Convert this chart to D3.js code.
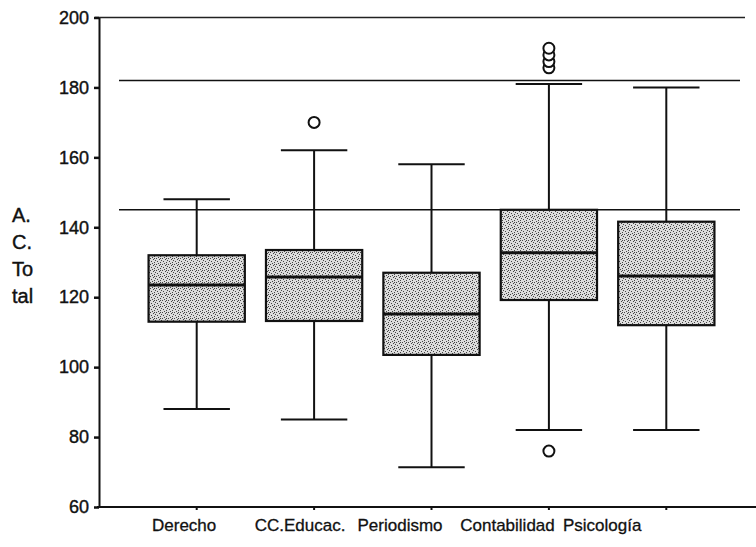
<!DOCTYPE html>
<html>
<head>
<meta charset="utf-8">
<script src="https://cdn.jsdelivr.net/npm/d3@7"></script>
<style>
  html, body { margin: 0; padding: 0; background: #fff; }
  svg { display: block; }
  text { font-family: "Liberation Sans", Arial, sans-serif; fill: #111; }
</style>
</head>
<body>
<svg id="chart" width="756" height="547"></svg>
<script>
// ---- data ----
const categories = ["Derecho", "CC.Educac.", "Periodismo", "Contabilidad", "Psicología"];
const whiskerLow  = [88, 85, 71.4, 82, 82];
const q1          = [113, 113.2, 103.5, 119.2, 112];
const median      = [123.5, 125.8, 115.2, 132.7, 126.1];
const q3          = [132, 133.5, 127, 145, 141.6];
const whiskerHigh = [148, 162, 158, 181, 180];
const outliers    = [[], [170], [], [76, 185.6, 187.4, 189.3, 191.2], []];
const yTicks      = [60, 80, 100, 120, 140, 160, 180, 200];
const refLines    = [182, 145];
const yLabelLines = ["A.", "C.", "To", "tal"];

const svg = d3.select("#chart");

const y = d3.scaleLinear().domain([60, 200]).range([507, 17.5]);
const x = d3.scaleBand().domain(categories).range([138, 725])
  .paddingInner(0.18).paddingOuter(0.09);
// category labels sit on one text line, left-aligned, as in the original output
const xLabel = d3.scalePoint().domain(categories).range([152, 563]);

// stipple pattern
const defs = svg.append("defs");
const pat = defs.append("pattern").attr("id", "stipple")
  .attr("patternUnits", "userSpaceOnUse").attr("width", 6).attr("height", 6);
pat.append("rect").attr("width", 6).attr("height", 6).attr("fill", "#dcdcdc");
[[0,0],[3,1],[1,3],[4,4],[2,5],[5,2],[4,0]].forEach(([px, py]) => {
  pat.append("rect").attr("x", px).attr("y", py).attr("width", 1).attr("height", 1).attr("fill", "#444");
});

// top frame line
svg.append("line").attr("x1", 95).attr("x2", 745)
  .attr("y1", y(200)).attr("y2", y(200))
  .attr("stroke", "#222").attr("stroke-width", 1.5);

// reference lines
svg.selectAll("line.ref").data(refLines).join("line").attr("class", "ref")
  .attr("x1", 119).attr("x2", 740)
  .attr("y1", d => y(d)).attr("y2", d => y(d))
  .attr("stroke", "#111").attr("stroke-width", 1.5);

// y axis
const yAxis = d3.axisLeft(y).tickValues(yTicks).tickSize(5).tickSizeOuter(0);
const gy = svg.append("g").attr("transform", "translate(99,0)").call(yAxis);
gy.select(".domain").attr("stroke", "#111").attr("stroke-width", 2);
gy.selectAll(".tick line").attr("stroke", "#111").attr("stroke-width", 2.5);
gy.selectAll(".tick text").attr("font-size", 18).attr("x", -10)
  .attr("font-family", "Liberation Sans, Arial, sans-serif").attr("fill", "#111")
  .attr("stroke", "#111").attr("stroke-width", 0.4);

// x axis (tick marks at box centres)
const xAxis = d3.axisBottom(x).tickSize(3).tickSizeOuter(0).tickFormat("");
const gx = svg.append("g").attr("transform", "translate(0,507)").call(xAxis);
gx.select(".domain").remove();
gx.selectAll(".tick line").attr("stroke", "#111").attr("stroke-width", 2);
svg.append("line").attr("x1", 97).attr("x2", 756).attr("y1", 507).attr("y2", 507)
  .attr("stroke", "#111").attr("stroke-width", 2);

svg.append("g").attr("class", "xlabels").selectAll("text").data(categories).join("text")
  .attr("x", d => xLabel(d)).attr("y", 531)
  .attr("font-size", 17).attr("stroke", "#111").attr("stroke-width", 0.3).text(d => d);

// y label
svg.append("text").attr("font-size", 20).attr("stroke", "#111").attr("stroke-width", 0.4)
  .selectAll("tspan").data(yLabelLines).join("tspan")
  .attr("x", 12).attr("y", (d, i) => 222 + i * 27).text(d => d);

// boxes
const rows = categories.map((c, i) => ({
  c, lo: whiskerLow[i], q1: q1[i], med: median[i], q3: q3[i], hi: whiskerHigh[i], out: outliers[i]
}));
const g = svg.selectAll("g.box").data(rows).join("g").attr("class", "box");
const cx = d => x(d.c) + x.bandwidth() / 2;
const capW = () => x.bandwidth() * 0.69;

g.append("line").attr("x1", cx).attr("x2", cx)
  .attr("y1", d => y(d.hi)).attr("y2", d => y(d.q3))
  .attr("stroke", "#111").attr("stroke-width", 2);
g.append("line").attr("x1", cx).attr("x2", cx)
  .attr("y1", d => y(d.q1)).attr("y2", d => y(d.lo))
  .attr("stroke", "#111").attr("stroke-width", 2);
g.append("line").attr("x1", d => cx(d) - capW() / 2).attr("x2", d => cx(d) + capW() / 2)
  .attr("y1", d => y(d.hi)).attr("y2", d => y(d.hi))
  .attr("stroke", "#111").attr("stroke-width", 2);
g.append("line").attr("x1", d => cx(d) - capW() / 2).attr("x2", d => cx(d) + capW() / 2)
  .attr("y1", d => y(d.lo)).attr("y2", d => y(d.lo))
  .attr("stroke", "#111").attr("stroke-width", 2);
g.append("rect").attr("x", d => x(d.c)).attr("width", x.bandwidth())
  .attr("y", d => y(d.q3)).attr("height", d => y(d.q1) - y(d.q3))
  .attr("fill", "url(#stipple)").attr("stroke", "#111").attr("stroke-width", 2.2);
g.append("line").attr("x1", d => x(d.c)).attr("x2", d => x(d.c) + x.bandwidth())
  .attr("y1", d => y(d.med)).attr("y2", d => y(d.med))
  .attr("stroke", "#111").attr("stroke-width", 3);

g.selectAll("circle").data(d => d.out.map(v => ({ v, c: d.c }))).join("circle")
  .attr("cx", d => x(d.c) + x.bandwidth() / 2).attr("cy", d => y(d.v)).attr("r", 5.5)
  .attr("fill", "#fff").attr("stroke", "#111").attr("stroke-width", 2);
</script>
</body>
</html>
